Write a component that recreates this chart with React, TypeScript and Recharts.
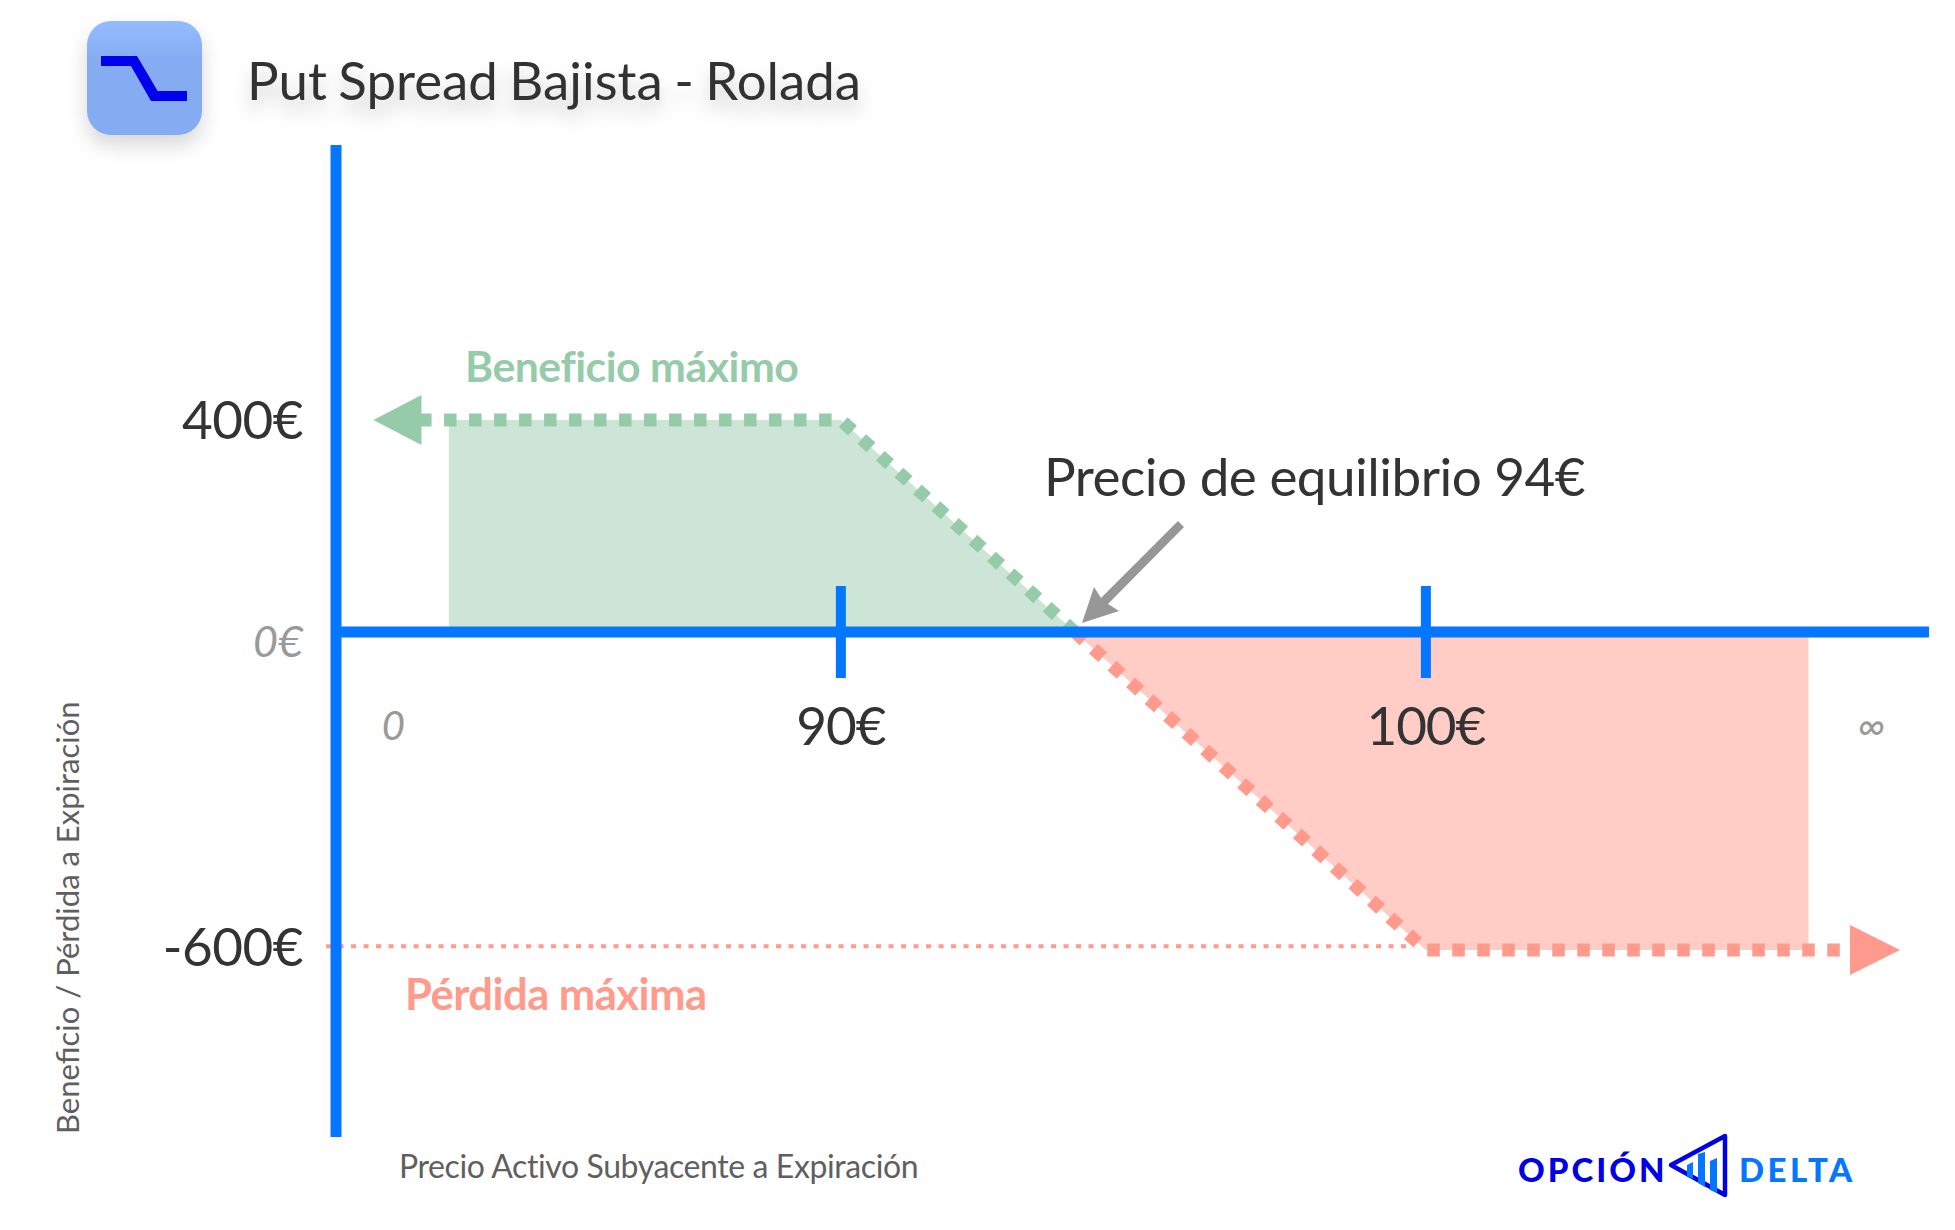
import { ComposedChart, Area, Line, XAxis, YAxis, ReferenceLine, ReferenceDot } from 'recharts'

// precio del activo a expiracion, y beneficio / perdida en cada zona
const prices = [82.79, 83.3, 90, 94, 100, 106.54, 107.25]
const profitArea = [null, 400, 400, 0, null, null, null]
const lossArea = [null, null, null, 0, -600, -600, null]
const profitLine = [400, 400, 400, 0, null, null, null]
const lossLine = [null, null, null, 0, -600, -600, -600]

const xDomain = [81.37, 108.6]
const yDomain = [-953, 919]
const xTicks = [82.35, 90, 100, 107.62]
const xTickLabels = ['0', '90€', '100€', '∞']
const yTicks = [400, 0, -600]
const yTickLabels = ['400€', '0€', '-600€']
const strikes = [90, 100]

const data = prices.map((x, i) => ({
  x,
  profitArea: profitArea[i],
  lossArea: lossArea[i],
  profitLine: profitLine[i],
  lossLine: lossLine[i],
}))

const BLUE = '#0576ff'
const GREEN = '#96cbaa'
const GREEN_FILL = '#cde5d6'
const RED = '#ff9a8c'
const RED_FILL = '#ffccc6'
const DARK = '#333333'
const GREY = '#999999'
const FONT = 'Lato'

function XTick({ x, payload }: any) {
  const i = xTicks.indexOf(payload.value)
  const muted = payload.value < 90 || payload.value > 100
  return (
    <text
      x={x}
      y={muted ? 740 : 745}
      textAnchor="middle"
      fontFamily={FONT}
      fontSize={muted ? 40 : 53}
      fontStyle={muted ? 'italic' : 'normal'}
      letterSpacing={muted ? 0 : -1}
      fill={muted ? GREY : DARK}
    >
      {xTickLabels[i]}
    </text>
  )
}

function YTick({ y, payload }: any) {
  const i = yTicks.indexOf(payload.value)
  const muted = payload.value === 0
  const dy = muted ? 25 : payload.value < 0 ? 16 : 19
  return (
    <text
      x={303}
      y={y + dy}
      textAnchor="end"
      fontFamily={FONT}
      fontSize={muted ? 43 : 53}
      fontStyle={muted ? 'italic' : 'normal'}
      letterSpacing={muted ? 0 : -0.5}
      fill={muted ? GREY : DARK}
    >
      {yTickLabels[i]}
    </text>
  )
}

const ArrowLeft = ({ cx, cy }: any) => (
  <path d={`M${cx - 48},${cy} L${cx},${cy - 25} L${cx},${cy + 25} Z`} fill={GREEN} />
)
const ArrowRight = ({ cx, cy }: any) => (
  <path d={`M${cx + 50},${cy} L${cx},${cy - 25} L${cx},${cy + 25} Z`} fill={RED} />
)

function Overlay() {
  return (
    <svg width={1955} height={1230} style={{ position: 'absolute', left: 0, top: 0, pointerEvents: 'none' }}>
      <defs>
        <filter id="soft" x="-20%" y="-50%" width="140%" height="220%">
          <feDropShadow dx="0" dy="12" stdDeviation="9" floodColor="#000" floodOpacity="0.2" />
        </filter>
        <filter id="iconShadow" x="-30%" y="-30%" width="160%" height="170%">
          <feDropShadow dx="0" dy="10" stdDeviation="10" floodColor="#000" floodOpacity="0.16" />
        </filter>
        <linearGradient id="icon" x1="0" y1="0" x2="0" y2="1">
          <stop offset="0" stopColor="#95bbff" />
          <stop offset="0.35" stopColor="#85abf2" />
          <stop offset="1" stopColor="#85abf2" />
        </linearGradient>
      </defs>

      <rect x={87} y={21} width={115} height={114} rx={24} fill="url(#icon)" filter="url(#iconShadow)" />
      <polygon points="101,56 137,56 157.6,91 187,91 187,101 151,101 131,66 101,66" fill="#0000ee" />
      <text x={247} y={100} fontFamily={FONT} fontSize={52.8} wordSpacing={-2} fill={DARK} filter="url(#soft)">
        Put Spread Bajista - Rolada
      </text>

      <text x={465} y={382} fontFamily={FONT} fontWeight={700} fontSize={42.8} letterSpacing={-0.5} fill={GREEN}>
        Beneficio máximo
      </text>
      <text x={405} y={1010} fontFamily={FONT} fontWeight={700} fontSize={43.5} letterSpacing={-0.5} fill={RED}>
        Pérdida máxima
      </text>
      <text x={1044} y={496} fontFamily={FONT} fontSize={53} letterSpacing={-0.5} fill={DARK}>
        Precio de equilibrio 94€
      </text>
      <polygon points="1082,623 1094,587 1101,598 1178,521 1184,527 1108,604 1119,611" fill="#979797" />

      <text x={399} y={1178} fontFamily={FONT} fontSize={32} letterSpacing={-0.4} fill="#5f5f5f">
        Precio Activo Subyacente a Expiración
      </text>
      <text
        transform="translate(79,1134) rotate(-90)"
        fontFamily={FONT}
        fontSize={31}
        fill="#5f5f5f"
      >
        Beneficio / Pérdida a Expiración
      </text>

      <text x={1518} y={1182} fontFamily={FONT} fontWeight={900} fontSize={33} letterSpacing={3} fill="#0000e6">
        OPCIÓN
      </text>
      <polygon points="1671,1165 1725,1136 1725,1195" fill="none" stroke="#0000e6" strokeWidth={4.5} strokeLinejoin="round" />
      <polygon points="1687,1165 1693,1162 1693,1179 1687,1176" fill={BLUE} />
      <polygon points="1698,1154 1705,1152 1705,1187 1698,1183" fill={BLUE} />
      <polygon points="1710,1161 1717,1158 1717,1193 1710,1190" fill={BLUE} />
      <text x={1739} y={1182} fontFamily={FONT} fontWeight={900} fontSize={33} letterSpacing={3.5} fill={BLUE}>
        DELTA
      </text>
    </svg>
  )
}

export default function App() {
  return (
    <div style={{ position: 'absolute', left: 0, top: 0, width: 1955, height: 1230, background: '#fff' }}>
      <ComposedChart
        width={1955}
        height={1230}
        data={data}
        margin={{ top: 145, right: 26, bottom: 0, left: 0 }}
      >
        <XAxis
          dataKey="x"
          type="number"
          domain={xDomain}
          ticks={xTicks}
          interval={0}
          allowDataOverflow
          height={93}
          axisLine={false}
          tickLine={false}
          tick={<XTick />}
        />
        <YAxis
          type="number"
          domain={yDomain}
          ticks={yTicks}
          interval={0}
          width={336}
          allowDataOverflow
          axisLine={{ stroke: BLUE, strokeWidth: 11 }}
          tickLine={false}
          tick={<YTick />}
        />
        <ReferenceLine
          ifOverflow="visible"
          segment={[{ x: 81.2, y: -593 }, { x: 99.8, y: -593 }]}
          stroke={RED}
          strokeWidth={4}
          strokeDasharray="5 7.5"
        />
        <Area dataKey="profitArea" type="linear" fill={GREEN_FILL} fillOpacity={1} stroke="none" isAnimationActive={false} />
        <Area dataKey="lossArea" type="linear" fill={RED_FILL} fillOpacity={1} stroke="none" isAnimationActive={false} />
        <Line dataKey="profitLine" type="linear" stroke={GREEN} strokeWidth={13} strokeDasharray="12.5 12.5" dot={false} isAnimationActive={false} />
        <Line dataKey="lossLine" type="linear" stroke={RED} strokeWidth={13} strokeDasharray="12.5 12.5" dot={false} isAnimationActive={false} />
        <ReferenceDot x={82.83} y={400} shape={<ArrowLeft />} ifOverflow="visible" />
        <ReferenceDot x={107.25} y={-600} shape={<ArrowRight />} ifOverflow="visible" />
        <ReferenceLine y={0} stroke={BLUE} strokeWidth={11} />
        {strikes.map(s => (
          <ReferenceLine key={s} segment={[{ x: s, y: 87 }, { x: s, y: -87 }]} stroke={BLUE} strokeWidth={10} />
        ))}
      </ComposedChart>
      <Overlay />
    </div>
  )
}
